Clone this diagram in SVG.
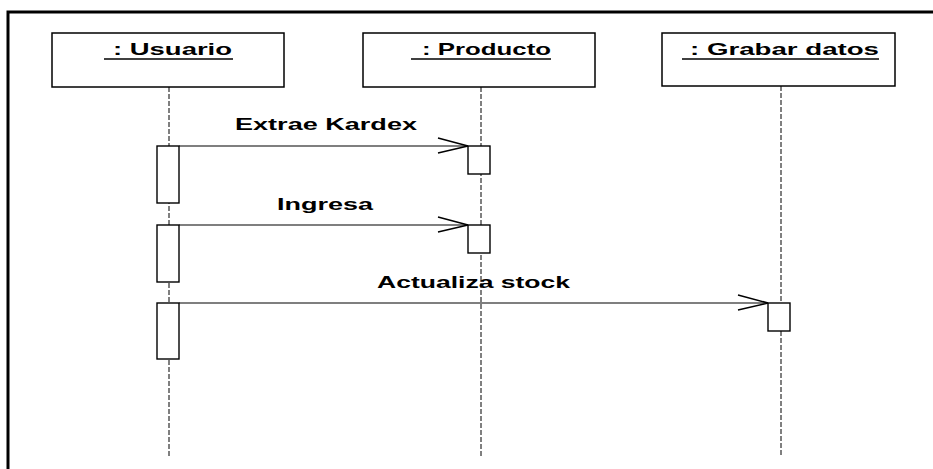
<svg xmlns="http://www.w3.org/2000/svg" width="933" height="469" viewBox="0 0 933 469">
<style>
.box{fill:#fff;stroke:#000;stroke-width:1.5}
.act{fill:#fff;stroke:#000;stroke-width:1.4}
.life{stroke:#000;stroke-width:1;stroke-dasharray:5 2;fill:none}
.msg{stroke:#000;stroke-width:1.2;fill:none}
.head{stroke:#000;stroke-width:1.5;fill:none}
.t{font-family:"Liberation Sans",Arial,sans-serif;font-size:17px;font-weight:bold;fill:#000}
.ul{stroke:#000;stroke-width:1.3}
.frame{stroke:#000;stroke-width:3;fill:none}
</style>
<rect width="933" height="469" fill="#fff"/>
<path class="frame" d="M8,469 V12 H933"/>
<g id="usuario">
<rect class="box" x="52" y="33" width="232" height="54"/>
<text class="t" x="113" y="55" textLength="119" lengthAdjust="spacingAndGlyphs">: Usuario</text>
<line class="ul" x1="104" y1="59" x2="233" y2="59"/>
<line class="life" x1="169" y1="87" x2="169" y2="457"/>
<rect class="act" x="157" y="146" width="22" height="57"/>
<rect class="act" x="157" y="225" width="22" height="57"/>
<rect class="act" x="157" y="303" width="22" height="56"/>
</g>
<g id="producto">
<rect class="box" x="363" y="33" width="232" height="54"/>
<text class="t" x="422" y="55" textLength="129" lengthAdjust="spacingAndGlyphs">: Producto</text>
<line class="ul" x1="411" y1="59" x2="551" y2="59"/>
<line class="life" x1="481" y1="87" x2="481" y2="457"/>
<rect class="act" x="468" y="146" width="22" height="28"/>
<rect class="act" x="468" y="225" width="22" height="28"/>
</g>
<g id="grabar">
<rect class="box" x="662" y="33" width="233" height="53"/>
<text class="t" x="690" y="55" textLength="189" lengthAdjust="spacingAndGlyphs">: Grabar datos</text>
<line class="ul" x1="682" y1="59" x2="879" y2="59"/>
<line class="life" x1="781" y1="86" x2="781" y2="457"/>
<rect class="act" x="768" y="303" width="22" height="28"/>
</g>
<g id="connectors">
<line class="msg" x1="179" y1="146" x2="468" y2="146"/>
<path class="head" d="M438,138 L468,146 L438,153"/>
<text class="t" x="235" y="130" textLength="182" lengthAdjust="spacingAndGlyphs">Extrae Kardex</text>
<line class="msg" x1="179" y1="225" x2="468" y2="225"/>
<path class="head" d="M438,217 L468,225 L438,232"/>
<text class="t" x="277" y="210" textLength="96" lengthAdjust="spacingAndGlyphs">Ingresa</text>
<line class="msg" x1="179" y1="303" x2="768" y2="303"/>
<path class="head" d="M738,295 L768,303 L738,310"/>
<text class="t" x="377" y="288" textLength="193" lengthAdjust="spacingAndGlyphs">Actualiza stock</text>
</g>
</svg>
